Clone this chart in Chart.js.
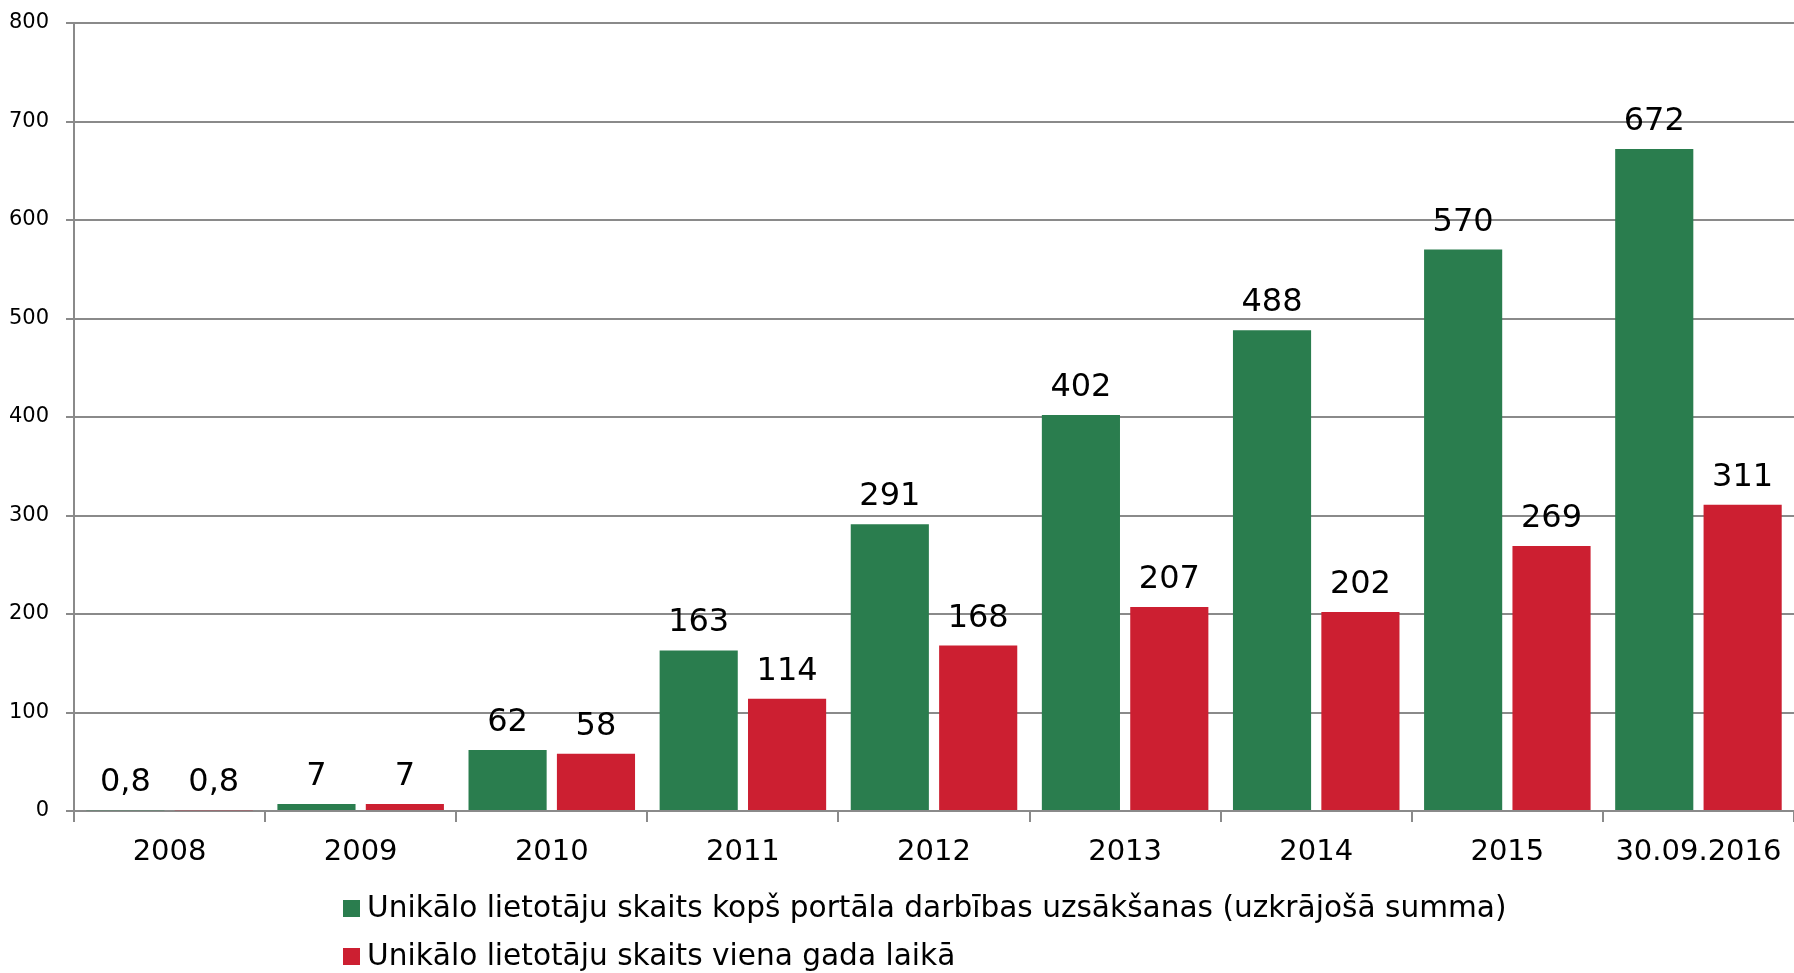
<!DOCTYPE html>
<html>
<head>
<meta charset="utf-8">
<script src="https://cdn.jsdelivr.net/npm/chart.js@4/dist/chart.umd.min.js"></script>
<style>
  html, body { margin: 0; padding: 0; background: #fff; }
  #wrap { width: 1794px; height: 973px; position: relative; }
</style>
</head>
<body>
<div id="wrap"><canvas id="usersChart"></canvas></div>
<script>
// Data
const years = ['2008', '2009', '2010', '2011', '2012', '2013', '2014', '2015', '30.09.2016'];
const totalUsers = [0.8, 7, 62, 163, 291, 402, 488, 570, 672];
const yearlyUsers = [0.8, 7, 58, 114, 168, 207, 202, 269, 311];
const yTicks = [0, 100, 200, 300, 400, 500, 600, 700, 800];

const seriesNames = [
  'Unikālo lietotāju skaits kopš portāla darbības uzsākšanas (uzkrājošā summa)',
  'Unikālo lietotāju skaits viena gada laikā'
];
const seriesColors = ['#2a7d4e', '#cc1f31'];

const fontFamily = '"DejaVu Sans", Verdana, sans-serif';
const gridGray = '#8a8a8a';

// value labels above each bar (comma decimal)
const valueLabels = {
  id: 'valueLabels',
  afterDatasetsDraw(chart) {
    const ctx = chart.ctx;
    ctx.save();
    ctx.font = '32px ' + fontFamily;
    ctx.fillStyle = '#000';
    ctx.textAlign = 'center';
    ctx.textBaseline = 'alphabetic';
    chart.data.datasets.forEach((ds, i) => {
      chart.getDatasetMeta(i).data.forEach((bar, j) => {
        ctx.fillText(String(ds.data[j]).replace('.', ','), bar.x, bar.y - 19);
      });
    });
    ctx.restore();
  }
};

// legend: two rows, left aligned
const rowLegend = {
  id: 'rowLegend',
  afterDraw(chart) {
    const ctx = chart.ctx;
    const x = 343;
    const rows = [chart.height - 65, chart.height - 17];
    ctx.save();
    ctx.font = '29.6px ' + fontFamily;
    ctx.textBaseline = 'middle';
    ctx.textAlign = 'left';
    chart.data.datasets.forEach((ds, i) => {
      ctx.fillStyle = ds.backgroundColor;
      ctx.fillRect(x, rows[i] - 8, 17, 17);
      ctx.fillStyle = '#000';
      ctx.fillText(ds.label, x + 24, rows[i] + 1);
    });
    ctx.restore();
  }
};

const ctx = document.getElementById('usersChart').getContext('2d');
const usersChart = new Chart(ctx, {
  type: 'bar',
  data: {
    labels: years,
    datasets: [
      { label: seriesNames[0], data: totalUsers, backgroundColor: seriesColors[0] },
      { label: seriesNames[1], data: yearlyUsers, backgroundColor: seriesColors[1] }
    ]
  },
  options: {
    responsive: true,
    maintainAspectRatio: false,
    animation: false,
    categoryPercentage: 0.925,
    barPercentage: 0.884,
    layout: { padding: { top: 23, left: 0, right: 0, bottom: 103 } },
    plugins: {
      legend: { display: false },
      tooltip: { enabled: false }
    },
    scales: {
      x: {
        afterFit(scale) {
          scale.height = 59;
          scale.paddingLeft = 0;
          scale.paddingRight = 0;
        },
        grid: { drawOnChartArea: false, color: gridGray, lineWidth: 2, tickLength: 11, offset: true },
        border: { color: gridGray, width: 2 },
        ticks: { color: '#000', font: { family: fontFamily, size: 29 }, padding: 13, maxRotation: 0 }
      },
      y: {
        min: 0,
        max: 800,
        afterBuildTicks(scale) { scale.ticks = yTicks.map(v => ({ value: v })); },
        afterFit(scale) {
          scale.width = 74;
          scale.paddingTop = 0;
          scale.paddingBottom = 0;
        },
        grid: { color: gridGray, lineWidth: 2, tickLength: 8 },
        border: { color: gridGray, width: 2 },
        ticks: { color: '#000', font: { family: fontFamily, size: 21 }, padding: 17 }
      }
    }
  },
  plugins: [valueLabels, rowLegend]
});
</script>
</body>
</html>
